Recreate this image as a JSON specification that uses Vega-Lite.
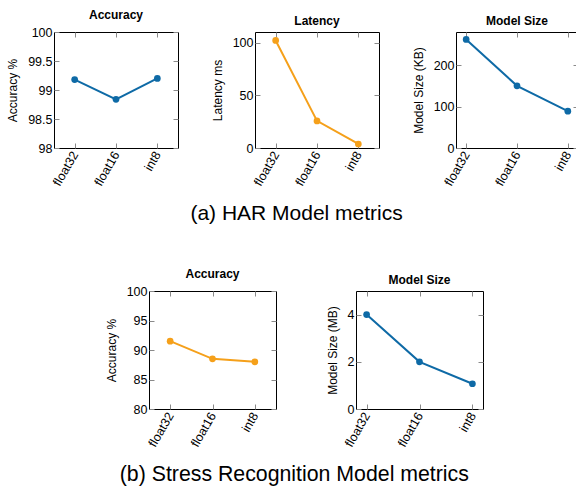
{
  "$schema": "https://vega.github.io/schema/vega-lite/v6.json",
  "background": "white",
  "padding": {"left": 6, "top": 8, "right": 0, "bottom": 0},
  "config": {
    "font": "Liberation Sans",
    "view": {"stroke": "black", "strokeWidth": 1},
    "axis": {
      "labelFont": "Liberation Sans", "labelFontSize": 12.5, "labelColor": "black",
      "titleFont": "Liberation Sans", "titleFontSize": 12, "titleFontWeight": "normal", "titleColor": "black",
      "tickColor": "#8a8a8a", "tickSize": -5, "tickWidth": 1, "domain": false, "grid": false
    },
    "axisX": {"labelAngle": -60, "labelAlign": "right", "labelBaseline": "middle", "labelPadding": 9},
    "axisY": {"labelPadding": 7, "titlePadding": 8},
    "title": {"font": "Liberation Sans", "fontSize": 12, "fontWeight": "bold", "color": "black", "offset": 4}
  },
  "center": true,
  "spacing": 43,
  "vconcat": [
    {
      "title": {"text": "(a) HAR Model metrics", "orient": "bottom", "fontSize": 21, "fontWeight": "normal", "offset": 14.5, "anchor": "middle", "dx": 4},
      "spacing": 31,
      "hconcat": [
        {
          "title": "Accuracy",
          "width": 124, "height": 116,
          "data": {"values": [{"q": "float32", "v": 99.18}, {"q": "float16", "v": 98.84}, {"q": "int8", "v": 99.2}]},
          "layer": [
            {
              "mark": {"type": "line", "color": "#0e6aa6", "strokeWidth": 2, "point": {"filled": true, "size": 45, "color": "#0e6aa6"}},
              "encoding": {
                "x": {"field": "q", "type": "ordinal", "sort": null, "scale": {"type": "point", "padding": 0.5}, "axis": {"title": null}},
                "y": {"field": "v", "type": "quantitative", "scale": {"domain": [98, 100], "nice": false, "zero": false}, "axis": {"title": "Accuracy %", "values": [98, 98.5, 99, 99.5, 100], "labelExpr": "'' + datum.value"}}
              }
            },
            {
              "mark": {"type": "point", "opacity": 0},
              "encoding": {
                "x": {"field": "q", "type": "ordinal", "sort": null, "axis": {"orient": "top", "labels": false, "title": null}},
                "y": {"field": "v", "type": "quantitative", "axis": {"orient": "right", "labels": false, "title": null, "values": [98, 98.5, 99, 99.5, 100]}}
              }
            }
          ],
          "resolve": {"axis": {"x": "independent", "y": "independent"}}
        },
        {
          "title": "Latency",
          "width": 124, "height": 116,
          "data": {"values": [{"q": "float32", "v": 102}, {"q": "float16", "v": 25.7}, {"q": "int8", "v": 3.8}]},
          "layer": [
            {
              "mark": {"type": "line", "color": "#f5a01a", "strokeWidth": 2, "point": {"filled": true, "size": 45, "color": "#f5a01a"}},
              "encoding": {
                "x": {"field": "q", "type": "ordinal", "sort": null, "scale": {"type": "point", "padding": 0.5}, "axis": {"title": null}},
                "y": {"field": "v", "type": "quantitative", "scale": {"domain": [0, 110], "nice": false}, "axis": {"title": "Latency ms", "values": [0, 50, 100]}}
              }
            },
            {
              "mark": {"type": "point", "opacity": 0},
              "encoding": {
                "x": {"field": "q", "type": "ordinal", "sort": null, "axis": {"orient": "top", "labels": false, "title": null}},
                "y": {"field": "v", "type": "quantitative", "axis": {"orient": "right", "labels": false, "title": null, "values": [0, 50, 100]}}
              }
            }
          ],
          "resolve": {"axis": {"x": "independent", "y": "independent"}}
        },
        {
          "title": "Model Size",
          "width": 122, "height": 116,
          "data": {"values": [{"q": "float32", "v": 262}, {"q": "float16", "v": 150}, {"q": "int8", "v": 89}]},
          "layer": [
            {
              "mark": {"type": "line", "color": "#0e6aa6", "strokeWidth": 2, "point": {"filled": true, "size": 45, "color": "#0e6aa6"}},
              "encoding": {
                "x": {"field": "q", "type": "ordinal", "sort": null, "scale": {"type": "point", "padding": 0.2}, "axis": {"title": null}},
                "y": {"field": "v", "type": "quantitative", "scale": {"domain": [0, 280], "nice": false}, "axis": {"title": "Model Size (KB)", "values": [0, 100, 200]}}
              }
            },
            {
              "mark": {"type": "point", "opacity": 0},
              "encoding": {
                "x": {"field": "q", "type": "ordinal", "sort": null, "axis": {"orient": "top", "labels": false, "title": null}},
                "y": {"field": "v", "type": "quantitative", "axis": {"orient": "right", "labels": false, "title": null, "values": [0, 100, 200]}}
              }
            }
          ],
          "resolve": {"axis": {"x": "independent", "y": "independent"}}
        }
      ]
    },
    {
      "title": {"text": "(b) Stress Recognition Model metrics", "orient": "bottom", "fontSize": 21.3, "fontWeight": "normal", "offset": 14.5, "anchor": "middle"},
      "spacing": 48,
      "hconcat": [
        {
          "title": "Accuracy",
          "width": 127, "height": 118,
          "data": {"values": [{"q": "float32", "v": 91.5}, {"q": "float16", "v": 88.5}, {"q": "int8", "v": 88.0}]},
          "layer": [
            {
              "mark": {"type": "line", "color": "#f5a01a", "strokeWidth": 2, "point": {"filled": true, "size": 45, "color": "#f5a01a"}},
              "encoding": {
                "x": {"field": "q", "type": "ordinal", "sort": null, "scale": {"type": "point", "padding": 0.5}, "axis": {"title": null}},
                "y": {"field": "v", "type": "quantitative", "scale": {"domain": [80, 100], "nice": false, "zero": false}, "axis": {"title": "Accuracy %", "values": [80, 85, 90, 95, 100]}}
              }
            },
            {
              "mark": {"type": "point", "opacity": 0},
              "encoding": {
                "x": {"field": "q", "type": "ordinal", "sort": null, "axis": {"orient": "top", "labels": false, "title": null}},
                "y": {"field": "v", "type": "quantitative", "axis": {"orient": "right", "labels": false, "title": null, "values": [80, 85, 90, 95, 100]}}
              }
            }
          ],
          "resolve": {"axis": {"x": "independent", "y": "independent"}}
        },
        {
          "title": "Model Size",
          "width": 127, "height": 118,
          "data": {"values": [{"q": "float32", "v": 4.0}, {"q": "float16", "v": 2.0}, {"q": "int8", "v": 1.07}]},
          "layer": [
            {
              "mark": {"type": "line", "color": "#0e6aa6", "strokeWidth": 2, "point": {"filled": true, "size": 45, "color": "#0e6aa6"}},
              "encoding": {
                "x": {"field": "q", "type": "ordinal", "sort": null, "scale": {"type": "point", "padding": 0.2}, "axis": {"title": null}},
                "y": {"field": "v", "type": "quantitative", "scale": {"domain": [0, 5], "nice": false}, "axis": {"title": "Model Size (MB)", "values": [0, 2, 4]}}
              }
            },
            {
              "mark": {"type": "point", "opacity": 0},
              "encoding": {
                "x": {"field": "q", "type": "ordinal", "sort": null, "axis": {"orient": "top", "labels": false, "title": null}},
                "y": {"field": "v", "type": "quantitative", "axis": {"orient": "right", "labels": false, "title": null, "values": [0, 2, 4]}}
              }
            }
          ],
          "resolve": {"axis": {"x": "independent", "y": "independent"}}
        }
      ]
    }
  ]
}
